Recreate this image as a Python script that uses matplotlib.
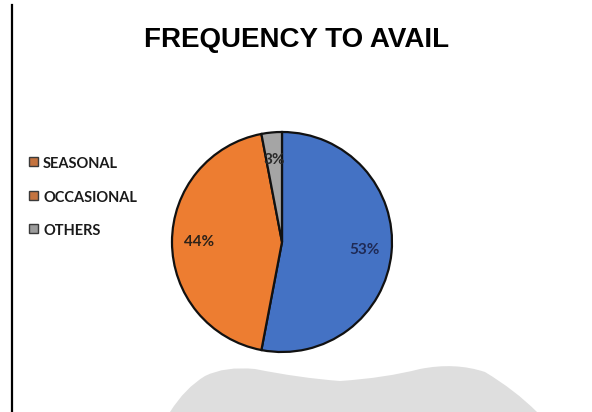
import matplotlib.pyplot as plt
from matplotlib.patches import Rectangle, PathPatch
from matplotlib.path import Path

# slices, clockwise from 12 o'clock
labels = ["SEASONAL", "OCCASIONAL", "OTHERS"]
shares = [53, 44, 3]
slice_colors = ["#4472C4", "#ED7D31", "#A5A5A5"]
pct_colors = ["#1f2a55", "#2e2218", "#2a2a2a"]
# legend swatches as they appear in the source sheet
key_colors = ["#c4733f", "#c4733f", "#9c9c9c"]

W, H = 592, 412
fig = plt.figure(figsize=(W / 100, H / 100), dpi=100)

# full-figure layer in pixel units for the decorations
bg = fig.add_axes([0, 0, 1, 1])
bg.set_xlim(0, W)
bg.set_ylim(H, 0)
bg.axis("off")

# vertical rule on the left edge
bg.plot([12, 12], [5, H], color="black", lw=1.6)

# grey blob at the bottom (smooth outline with quadratic curves)
verts = [(170, 412),
         (185, 388), (205, 376),
         (225, 366), (255, 369),
         (300, 378), (340, 381),
         (385, 378), (420, 369),
         (455, 362), (485, 372),
         (515, 390), (537, 412),
         (170, 412)]
codes = ([Path.MOVETO] + [Path.CURVE3, Path.CURVE3] * 6 + [Path.CLOSEPOLY])
bg.add_patch(PathPatch(Path(verts, codes), facecolor="#dedede", edgecolor="none"))

bg.text(297, 47, "FREQUENCY TO AVAIL", ha="center", va="baseline",
        fontsize=20, fontweight="bold", family="Liberation Sans")

# legend drawn by hand
for i, (name, c) in enumerate(zip(labels, key_colors)):
    y = 164 + i * 33.5
    bg.add_patch(Rectangle((29, y - 7), 9, 9, facecolor=c, edgecolor="#3a3a3a", lw=1.0))
    bg.text(43, y, name, ha="left", va="center", fontsize=10.5, fontweight="bold",
            family="Lato", color="#1a1a1a")

# pie
cx, cy, r = 282, 242, 110
ax = fig.add_axes([(cx - r) / W, (H - cy - r) / H, 2 * r / W, 2 * r / H])
wedges, texts, autotexts = ax.pie(
    shares, colors=slice_colors, startangle=90, counterclock=False,
    autopct=lambda p: f"{round(p)}%", pctdistance=0.75,
    wedgeprops=dict(edgecolor="#111111", linewidth=1.6),
    textprops=dict(fontsize=11, family="Lato", fontweight="bold"))
for t, c in zip(autotexts, pct_colors):
    t.set_color(c)
ax.set_xlim(-1, 1)
ax.set_ylim(-1, 1)
for w in wedges:
    w.set_clip_on(False)

fig.savefig("out.png", dpi=100)
